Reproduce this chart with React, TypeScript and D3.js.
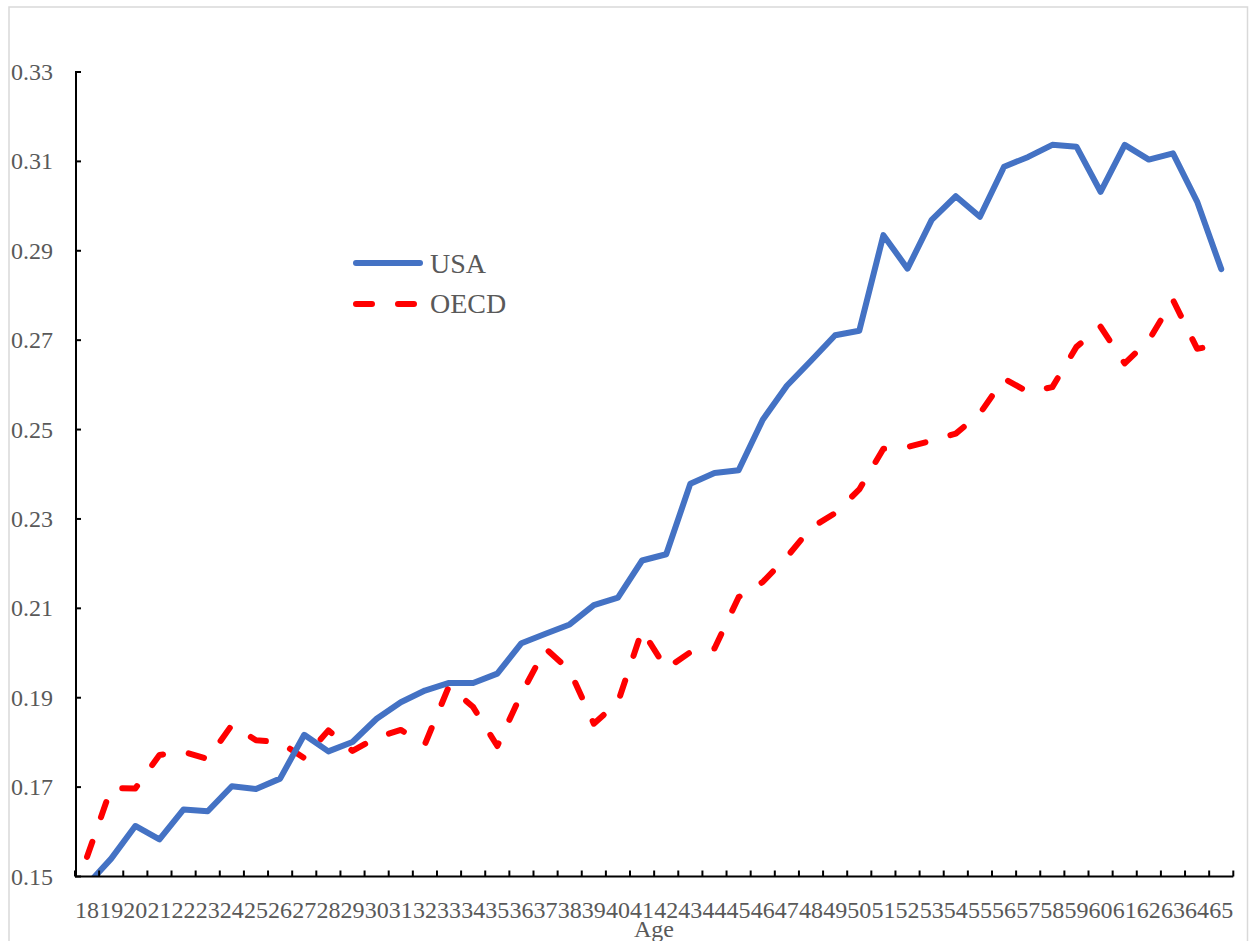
import React from "react";
import * as d3 from "d3";

const ages: number[] = [
  18, 19, 20, 21, 22, 23, 24, 25, 26, 27, 28, 29, 30, 31, 32, 33, 34, 35, 36, 37, 38, 39, 40, 41,
  42, 43, 44, 45, 46, 47, 48, 49, 50, 51, 52, 53, 54, 55, 56, 57, 58, 59, 60, 61, 62, 63, 64, 65,
];

const usa: number[] = [
  0.1481, 0.154, 0.1613, 0.1583, 0.165, 0.1646, 0.1702, 0.1696, 0.1719, 0.1817, 0.178, 0.1801,
  0.1853, 0.189, 0.1916, 0.1933, 0.1933, 0.1954, 0.2022, 0.2043, 0.2064, 0.2107, 0.2124, 0.2207,
  0.2221, 0.2379, 0.2403, 0.2409, 0.2522, 0.2598, 0.2654, 0.2711, 0.2721, 0.2935, 0.286, 0.2969,
  0.3022, 0.2976, 0.3088, 0.311, 0.3137, 0.3133, 0.3032, 0.3137, 0.3104, 0.3118, 0.301, 0.2859,
];

const oecd: number[] = [
  0.1544, 0.1698, 0.1697, 0.1772, 0.1779, 0.1763, 0.1839, 0.1805, 0.18, 0.1765, 0.1827, 0.1781,
  0.1811, 0.1828, 0.1796, 0.1926, 0.1879, 0.1792, 0.1909, 0.201, 0.1961, 0.1842, 0.189, 0.2051,
  0.1965, 0.2002, 0.201, 0.2125, 0.2159, 0.2215, 0.228, 0.2313, 0.2366, 0.2457, 0.2461, 0.2475,
  0.2491, 0.2536, 0.2614, 0.2584, 0.2595, 0.2685, 0.273, 0.2648, 0.27, 0.279, 0.2681, 0.2689,
];

const yTicks: number[] = [0.15, 0.17, 0.19, 0.21, 0.23, 0.25, 0.27, 0.29, 0.31, 0.33];

const seriesNames: string[] = ["USA", "OECD"];

const W = 1254;
const H = 941;
const left = 75;
const right = 1233.3;
const top = 72;
const bottom = 876.5;
const textColor = "#595959";
const font = "'Liberation Serif', 'Times New Roman', serif";

export default function App() {
  const x = d3
    .scaleBand<string>()
    .domain(ages.map(String))
    .range([left, right])
    .paddingInner(0)
    .paddingOuter(0);
  const bw = x.bandwidth();
  const y = d3.scaleLinear().domain([0.15, 0.33]).range([bottom, top]);
  const cx = (i: number) => (x(String(ages[i])) as number) + bw / 2;

  const line = d3
    .line<number>()
    .x((_, i) => cx(i))
    .y((d) => y(d));

  const boundaries = d3.range(ages.length + 1).map((i) => left + i * bw);

  return (
    <svg
      width={W}
      height={H}
      style={{ position: "absolute", left: 0, top: 0, background: "#fff" }}
      fontFamily={font}
    >
      <rect x={0} y={0} width={W} height={H} fill="#fff" />
      <rect x={9} y={7} width={1238.5} height={945} fill="none" stroke="#d9d9d9" strokeWidth={1.5} />
      <defs>
        <clipPath id="plotClip">
          <rect x={left} y={top - 10} width={right - left + 10} height={bottom - top + 10} />
        </clipPath>
      </defs>

      {/* lines */}
      <g clipPath="url(#plotClip)">
        <path
          d={line(oecd) || ""}
          fill="none"
          stroke="#FF0000"
          strokeWidth={6}
          strokeDasharray="16 26"
          strokeLinecap="round"
          strokeLinejoin="round"
        />
        <path
          d={line(usa) || ""}
          fill="none"
          stroke="#4472C4"
          strokeWidth={6}
          strokeLinejoin="round"
          strokeLinecap="round"
        />
      </g>

      {/* y axis */}
      <line x1={left + 1} x2={left + 1} y1={top} y2={bottom} stroke="#000" strokeWidth={2} />
      {yTicks.map((t) => (
        <g key={t}>
          <line x1={left} x2={left + 6} y1={y(t)} y2={y(t)} stroke="#000" strokeWidth={2} />
          <text
            x={53}
            y={y(t)}
            textAnchor="end"
            dominantBaseline="central"
            fontSize={24}
            fill={textColor}
          >
            {t.toFixed(2)}
          </text>
        </g>
      ))}

      {/* x axis */}
      <line x1={left} x2={right} y1={bottom} y2={bottom} stroke="#000" strokeWidth={2} />
      {boundaries.map((b, i) => (
        <line key={i} x1={b} x2={b} y1={bottom} y2={bottom - 6} stroke="#000" strokeWidth={2} />
      ))}
      {ages.map((a, i) => (
        <text key={a} x={cx(i)} y={918} textAnchor="middle" fontSize={24} fill={textColor}>
          {a}
        </text>
      ))}
      <text x={654} y={937} textAnchor="middle" fontSize={24} fill={textColor}>
        Age
      </text>

      {/* legend */}
      <line x1={356} x2={420} y1={263} y2={263} stroke="#4472C4" strokeWidth={6} strokeLinecap="round" />
      <line
        x1={356}
        x2={420}
        y1={304}
        y2={304}
        stroke="#FF0000"
        strokeWidth={6}
        strokeDasharray="16 26"
        strokeLinecap="round"
      />
      <text x={430} y={273} fontSize={28} fill={textColor}>
        {seriesNames[0]}
      </text>
      <text x={430} y={313} fontSize={28} fill={textColor}>
        {seriesNames[1]}
      </text>
    </svg>
  );
}
